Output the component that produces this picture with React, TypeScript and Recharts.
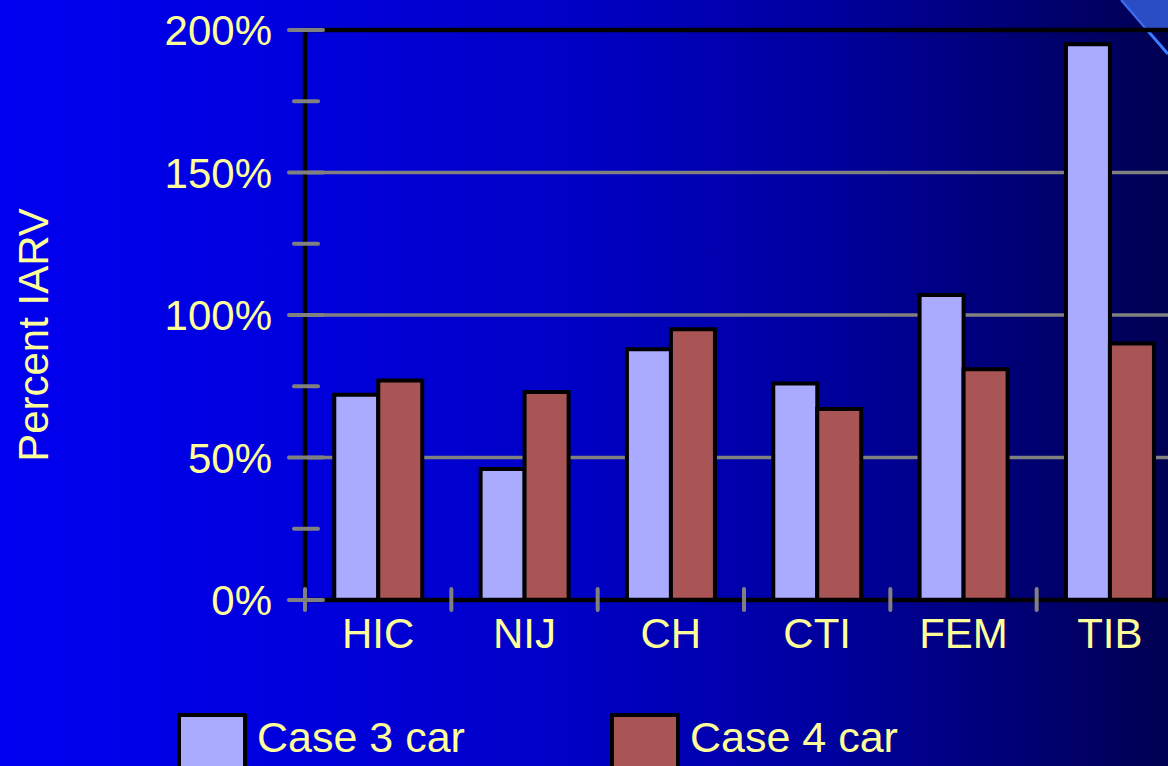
import { BarChart, Bar, XAxis, YAxis, CartesianGrid, ReferenceLine } from "recharts";

// Injury criteria and the percent-of-IARV readings for each case
const CRITERIA = ["HIC", "NIJ", "CH", "CTI", "FEM", "TIB"];
const CASE3 = [72, 46, 88, 76, 107, 195];
const CASE4 = [77, 73, 95, 67, 81, 90];
const SERIES = [
  { key: "case3", name: "Case 3 car", color: "#AAAAFF" },
  { key: "case4", name: "Case 4 car", color: "#AA5555" },
];
const Y_TICKS = [0, 25, 50, 75, 100, 125, 150, 175, 200];
const GRID_VALUES = [50, 100, 150];

const data = CRITERIA.map((name, i) => ({ name, case3: CASE3[i], case4: CASE4[i] }));

const YELLOW = "#FFFF99";
const GRAY = "#808080";
const FONT = "'Liberation Sans', Arial, sans-serif";

const W = 1203;
const H = 766;
const MARGIN = { top: 30, right: 17, bottom: 106, left: 0 };
const Y_AXIS_W = 305;
const BAND = (W - 3 - MARGIN.left - MARGIN.right - Y_AXIS_W) / CRITERIA.length;

const YTick = (props: any) => {
  const { x, y, payload } = props;
  const major = payload.value % 50 === 0;
  return (
    <g>
      <line
        x1={major ? x - 16 : x - 11}
        x2={major ? x + 18 : x + 13}
        y1={y}
        y2={y}
        stroke={GRAY}
        strokeWidth={4}
        strokeLinecap="round"
      />
      {major && (
        <text x={x - 33} y={y} dy="0.36em" textAnchor="end" fill={YELLOW} fontSize={42} fontFamily={FONT}>
          {payload.value}%
        </text>
      )}
    </g>
  );
};

// category ticks sit on the band boundaries, labels in the middle
const XTick = (props: any) => {
  const { x, y, payload } = props;
  const bx = x - BAND / 2;
  return (
    <g>
      <line x1={bx} x2={bx} y1={y - 11} y2={y + 10} stroke={GRAY} strokeWidth={4} strokeLinecap="round" />
      <text x={x} y={y + 48} textAnchor="middle" fill={YELLOW} fontSize={42} fontFamily={FONT}>
        {payload.value}
      </text>
    </g>
  );
};

export default function App() {
  return (
    <div
      style={{
        position: "fixed",
        left: 0,
        top: 0,
        width: 1168,
        height: 766,
        overflow: "hidden",
        background:
          "linear-gradient(to right, #0000F0 0%, #0000DE 25%, #0000C4 50%, #0000A0 70%, #000082 82%, #000052 100%)",
      }}
    >
      {/* corner ornament */}
      <svg width={1168} height={766} style={{ position: "absolute", left: 0, top: 0 }}>
        <polygon points="1121,0 1168,0 1168,29 1146,29" fill="#2A4CC4" />
        <line x1={1121} y1={0} x2={1146} y2={29} stroke="#3F6FF0" strokeWidth={2} />
        <line x1={1148} y1={31} x2={1168} y2={54} stroke="#3D7BFF" strokeWidth={3} />
      </svg>

      <div style={{ position: "absolute", left: 0, top: 0 }}>
        <BarChart width={W} height={H} data={data} margin={{ ...MARGIN, right: MARGIN.right + 3 }} barCategoryGap="20%" barGap={0}>
          <CartesianGrid vertical={false} horizontalValues={GRID_VALUES} stroke={GRAY} strokeWidth={3.5} />
          {SERIES.map((s) => (
            <Bar
              key={s.key}
              dataKey={s.key}
              name={s.name}
              fill={s.color}
              stroke="#000"
              strokeWidth={4}
              isAnimationActive={false}
            />
          ))}
          <ReferenceLine y={200} stroke="#000" strokeWidth={4.5} />
          <XAxis
            dataKey="name"
            height={60}
            interval={0}
            tickSize={0}
            tickMargin={0}
            tickLine={false}
            axisLine={{ stroke: "#000", strokeWidth: 4.5 }}
            tick={<XTick />}
          />
          <YAxis
            width={Y_AXIS_W}
            domain={[0, 200]}
            ticks={Y_TICKS}
            interval={0}
            tickSize={0}
            tickMargin={0}
            tickLine={false}
            axisLine={{ stroke: "#000", strokeWidth: 4.5 }}
            tick={<YTick />}
            label={{
              value: "Percent IARV",
              content: () => (
                <text
                  x={33}
                  y={335}
                  transform="rotate(-90 33 335)"
                  textAnchor="middle"
                  dominantBaseline="central"
                  fill={YELLOW}
                  fontSize={42}
                  fontFamily={FONT}
                >
                  Percent IARV
                </text>
              ),
            }}
          />
        </BarChart>
      </div>

      {/* legend */}
      {SERIES.map((s, i) => (
        <div key={s.key} style={{ position: "absolute", left: i === 0 ? 177 : 610, top: 713 }}>
          <div
            style={{
              position: "absolute",
              left: 0,
              top: 0,
              width: 62,
              height: 60,
              background: s.color,
              border: "4px solid #000",
              borderRadius: 2,
            }}
          />
          <div
            style={{
              position: "absolute",
              left: 80,
              top: 0,
              whiteSpace: "nowrap",
              color: YELLOW,
              fontFamily: FONT,
              fontSize: 43,
              lineHeight: "48px",
            }}
          >
            {s.name}
          </div>
        </div>
      ))}
    </div>
  );
}
